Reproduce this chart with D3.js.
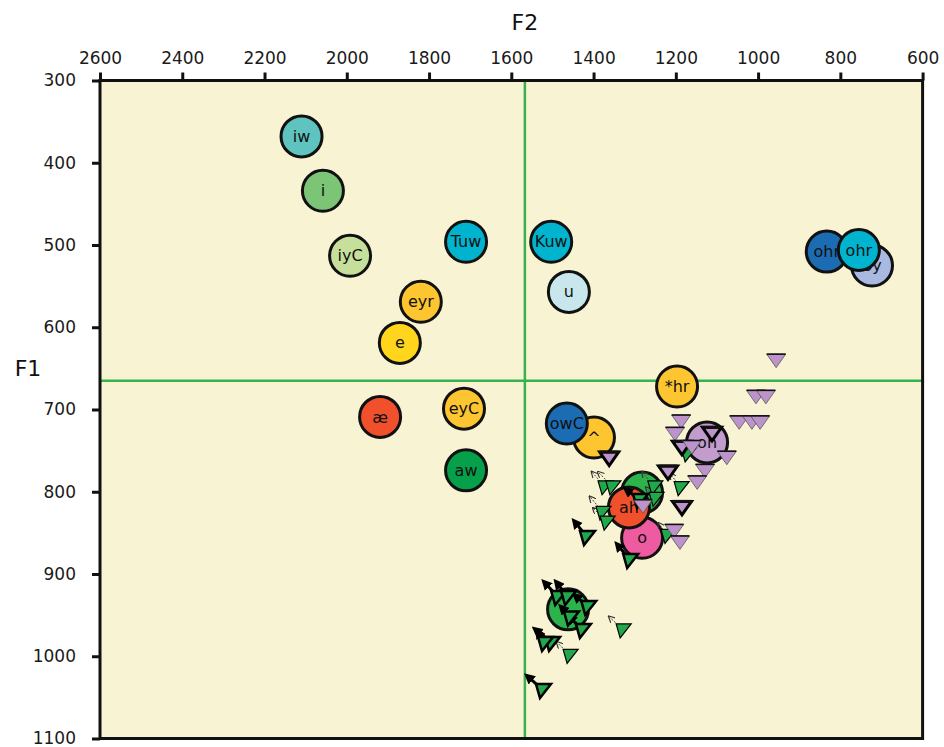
<!DOCTYPE html>
<html>
<head>
<meta charset="utf-8">
<script src="https://cdn.jsdelivr.net/npm/d3@7"></script>
<style>
  html, body { margin: 0; padding: 0; background: #ffffff; }
  svg { display: block; }
  text { font-family: "DejaVu Sans", "Noto Sans", sans-serif; }
</style>
</head>
<body>
<svg id="chart" width="944" height="747"></svg>
<script>
// ---------- DATA ----------
// Vowel class means (F2, F1) in Hz
const meanLabels = ["iw", "i", "iyC", "Tuw", "Kuw", "u", "eyr", "e", "æ", "eyC", "aw", "^", "owC", "*hr", "oh", "", "o", "ah", "", "oy", "ohr", "ohr2"];
const meanF2 =     [2110, 2058, 1992, 1710, 1503, 1460, 1820, 1871, 1919, 1715, 1710, 1399, 1465, 1197, 1124, 1282, 1282, 1314, 1462, 723, 833, 755];
const meanF1 =     [368, 434, 513, 496, 496, 557, 569, 619, 709, 699, 774, 734, 717, 672, 740, 801, 856, 819, 943, 525, 508, 506];
const meanColors = ["#5fc4bf", "#7cc576", "#c6e09c", "#00b4cf", "#00b4cf", "#c8e7ed", "#fdc52f", "#ffd61c", "#f0502b", "#fdc52f", "#06a04b", "#fdc52f", "#1c6cb4", "#fdc52f", "#c29ccd", "#2db34b", "#ee5ba0", "#f0502b", "#2db34b", "#a9b9e0", "#1c6cb4", "#00b4cf"];

// /oh/ tokens (purple)
const ohF2 =   [956, 1005, 981, 1046, 1015, 995, 1187, 1202, 1112, 1362, 1185, 1161, 1076, 1219, 1129, 1148, 1185, 1280, 1204, 1190];
const ohF1 =   [640, 684, 684, 715, 715, 715, 714, 729, 729, 759, 746, 745, 758, 776, 774, 788, 819, 817, 847, 861];
const ohBold = [0, 0, 0, 0, 0, 0, 0, 0, 1, 1, 1, 0, 0, 1, 0, 0, 1, 0, 0, 0];

// /o/ tokens (green) with glide targets
const oF2 =      [1372, 1353, 1251, 1187, 1170, 1377, 1367, 1416, 1311, 1219, 1287, 1248, 1486, 1462, 1413, 1455, 1426, 1501, 1518, 1457, 1523, 1328];
const oF1 =      [794, 794, 794, 795, 754, 825, 837, 855, 883, 853, 810, 808, 928, 928, 940, 953, 968, 984, 984, 999, 1041, 968];
const oGlideF2 = [1404, 1389, 1282, 1214, 1190, 1409, 1401, 1445, 1341, 1243, 1319, 1272, 1518, 1489, 1443, 1477, 1457, 1540, 1535, 1489, 1559, 1362];
const oGlideF1 = [776, 776, 776, 778, 742, 806, 820, 837, 865, 838, 798, 795, 911, 911, 927, 941, 953, 968, 971, 983, 1025, 952];
const oBold =    [0, 0, 0, 0, 0, 0, 0, 1, 1, 0, 1, 0, 1, 1, 1, 1, 1, 1, 1, 0, 1, 0];

// Grand mean reference lines
const refF2 = 1567;
const refF1 = 665;

// Axis ticks
const f2Ticks = [2600, 2400, 2200, 2000, 1800, 1600, 1400, 1200, 1000, 800, 600];
const f1Ticks = [300, 400, 500, 600, 700, 800, 900, 1000, 1100];

// ---------- DRAW ----------
(function () {
const svg = d3.select("#chart");
const pLeft = 100, pRight = 922.6, pTop = 80.5, pBottom = 738.5;

const x = d3.scaleLinear().domain([2600, 600]).range([pLeft, pRight]);
const y = d3.scaleLinear().domain([300, 1100]).range([pTop, pBottom]);

// defs for arrowheads
const defs = svg.append("defs");
defs.append("marker").attr("id", "headBold")
  .attr("viewBox", "0 0 10 10").attr("refX", 5).attr("refY", 5)
  .attr("markerWidth", 11).attr("markerHeight", 11)
  .attr("markerUnits", "userSpaceOnUse").attr("orient", "auto")
  .append("path").attr("d", "M0,0 L10,5 L0,10 Z").attr("fill", "#000");
defs.append("marker").attr("id", "headThin")
  .attr("viewBox", "0 0 10 10").attr("refX", 8).attr("refY", 5)
  .attr("markerWidth", 7).attr("markerHeight", 7)
  .attr("markerUnits", "userSpaceOnUse").attr("orient", "auto")
  .append("path").attr("d", "M0,0 L10,5 L0,10").attr("fill", "none").attr("stroke", "#333").attr("stroke-width", 1.6);

// background
svg.append("rect").attr("x", pLeft).attr("y", pTop)
  .attr("width", pRight - pLeft).attr("height", pBottom - pTop)
  .attr("fill", "#f8f3d3");

// reference lines
svg.append("line").attr("x1", x(refF2)).attr("x2", x(refF2))
  .attr("y1", pTop).attr("y2", pBottom)
  .attr("stroke", "#36b34a").attr("stroke-width", 2.5);
svg.append("line").attr("x1", pLeft).attr("x2", pRight)
  .attr("y1", y(refF1)).attr("y2", y(refF1))
  .attr("stroke", "#36b34a").attr("stroke-width", 2.5);

// axes
const xAxis = d3.axisTop(x).tickValues(f2Ticks).tickSize(8).tickSizeOuter(0).tickPadding(9).tickFormat(d3.format("d"));
const yAxis = d3.axisLeft(y).tickValues(f1Ticks).tickSize(8).tickSizeOuter(0).tickPadding(16).tickFormat(d3.format("d"));

const gx = svg.append("g").attr("transform", `translate(0,${pTop})`).call(xAxis);
const gy = svg.append("g").attr("transform", `translate(${pLeft},0)`).call(yAxis);
[gx, gy].forEach(g => {
  g.select(".domain").remove();
  g.selectAll(".tick line").attr("stroke", "#111").attr("stroke-width", 3);
  g.selectAll(".tick text").attr("fill", "#1a1a1a").style("font-size", "17px")
    .style("font-family", "'DejaVu Sans', sans-serif");
});

// frame
svg.append("rect").attr("x", pLeft).attr("y", pTop)
  .attr("width", pRight - pLeft).attr("height", pBottom - pTop)
  .attr("fill", "none").attr("stroke", "#111").attr("stroke-width", 3);

// axis titles
svg.append("text").attr("x", x(refF2)).attr("y", 30).attr("text-anchor", "middle")
  .style("font-size", "22px").attr("fill", "#111").text("F2");
svg.append("text").attr("x", 28).attr("y", y(refF1) - 5).attr("text-anchor", "middle")
  .style("font-size", "22px").attr("fill", "#111").text("F1");

// means
const means = meanLabels.map((l, i) => ({ label: l.replace(/2$/, ""), f2: meanF2[i], f1: meanF1[i], color: meanColors[i] }));
const mg = svg.append("g").selectAll("g").data(means).join("g")
  .attr("transform", d => `translate(${x(d.f2)},${y(d.f1)})`);
mg.append("circle").attr("r", 20.5).attr("fill", d => d.color)
  .attr("stroke", "#111").attr("stroke-width", 3);
mg.append("text").attr("text-anchor", "middle").attr("dy", "0.35em")
  .style("font-size", "16px").attr("fill", "#111").text(d => d.label);

// o tokens
const oTok = oF2.map((v, i) => ({ f2: v, f1: oF1[i], g2: oGlideF2[i], g1: oGlideF1[i], bold: oBold[i] }));
const og = svg.append("g");
og.selectAll("line").data(oTok).join("line")
  .attr("x1", d => x(d.f2)).attr("y1", d => y(d.f1))
  .attr("x2", d => x(d.g2)).attr("y2", d => y(d.g1))
  .attr("stroke", d => d.bold ? "#000" : "#444")
  .attr("stroke-width", d => d.bold ? 3 : 1)
  .attr("stroke-dasharray", d => d.bold ? null : "2,1.5")
  .attr("marker-end", d => d.bold ? "url(#headBold)" : "url(#headThin)");
og.selectAll("path").data(oTok).join("path")
  .attr("transform", d => `translate(${x(d.f2)},${y(d.f1)})`)
  .attr("d", "M-7,-6 L8,-6 L-3,8 Z")
  .attr("fill", "#21a84a")
  .attr("stroke", "#000")
  .attr("stroke-linejoin", "miter")
  .attr("stroke-width", d => d.bold ? 2.5 : 1.2);

// oh tokens
const ohTok = ohF2.map((v, i) => ({ f2: v, f1: ohF1[i], bold: ohBold[i] }));
const pg = svg.append("g").selectAll("g").data(ohTok).join("g")
  .attr("transform", d => `translate(${x(d.f2)},${y(d.f1)})`);
pg.append("path").attr("d", "M-9.5,-6 L9.5,-6 L0,7.5 Z")
  .attr("fill", "#bc94cb")
  .attr("stroke", d => d.bold ? "#000" : "#555")
  .attr("stroke-width", d => d.bold ? 3 : 0.8)
  .attr("stroke-linejoin", "miter");
pg.append("line").attr("x1", -9.5).attr("x2", 9.5).attr("y1", -6).attr("y2", -6)
  .attr("stroke", "#111").attr("stroke-width", d => d.bold ? 3 : 1.6);
})();
</script>
</body>
</html>
